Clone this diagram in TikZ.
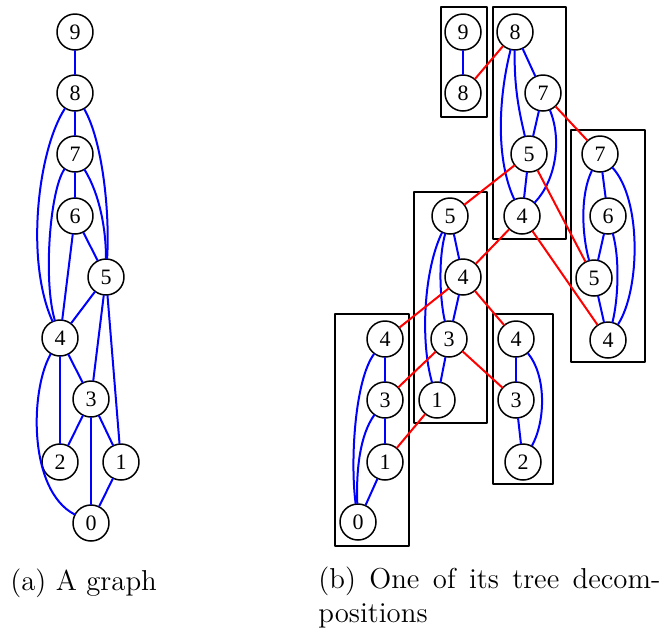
\documentclass[tikz,border=0pt]{standalone}
\usepackage{fontspec}
\newfontfamily\vtxfont{Liberation Serif}
\begin{document}
\begin{tikzpicture}[x=0.5pt, y=-0.5pt, line cap=round, line join=round,
  vtx/.style={circle, draw, line width=0.75pt, minimum size=18pt, inner sep=0pt,
    font=\vtxfont\fontsize{11}{12}\selectfont},
  gedge/.style={draw=\tdGraphEdgeColor, line width=1pt},
  tedge/.style={draw=\tdTreeEdgeColor, line width=1pt},
  bag/.style={draw, line width=0.75pt},
  capt/.style={inner sep=0pt, anchor=base west, font=\fontsize{14.4}{17}\selectfont}]
% Tree decomposition figure, pixel coordinates
\providecommand{\tdGraphEdgeColor}{blue}
\providecommand{\tdTreeEdgeColor}{red}
\useasboundingbox (0,0) rectangle (662,632);
% (a) The graph
\node[vtx] (g9) at (75,32) {9};
\node[vtx] (g8) at (75,93) {8};
\node[vtx] (g7) at (75,154) {7};
\node[vtx] (g6) at (75,216) {6};
\node[vtx] (g5) at (106,277) {5};
\node[vtx] (g4) at (60,338) {4};
\node[vtx] (g3) at (91,399) {3};
\node[vtx] (g2) at (60,462) {2};
\node[vtx] (g1) at (121,462) {1};
\node[vtx] (g0) at (91,523) {0};
\begin{scope}[gedge]
  \draw (g9) -- (g8);
  \draw (g8) -- (g7);
  \draw (g8) .. controls (38,150) and (25,260) .. (g4);
  \draw (g8) .. controls (102,140) and (110,210) .. (g5);
  \draw (g7) -- (g6);
  \draw (g7) .. controls (50,190) and (43,280) .. (g4);
  \draw (g7) .. controls (100,195) and (106,230) .. (g5);
  \draw (g6) -- (g5);
  \draw (g6) -- (g4);
  \draw (g5) -- (g4);
  \draw (g5) -- (g3);
  \draw (g5) -- (g1);
  \draw (g4) -- (g3);
  \draw (g4) -- (g2);
  \draw (g4) .. controls (30,390) and (28,490) .. (g0);
  \draw (g3) -- (g2);
  \draw (g3) -- (g1);
  \draw (g3) -- (g0);
  \draw (g1) -- (g0);
\end{scope}
% (b) Bags
\draw[bag] (441,7) rectangle (487,117);
\draw[bag] (493,7) rectangle (566,239);
\draw[bag] (571,130) rectangle (645,362);
\draw[bag] (414,192) rectangle (487,423);
\draw[bag] (335,314) rectangle (409,546);
\draw[bag] (493,314) rectangle (553,484);
% bag {9,8}
\node[vtx] (a9) at (463,32) {9};
\node[vtx] (a8) at (463,93) {8};
% bag {8,7,5,4}
\node[vtx] (b8) at (515,32) {8};
\node[vtx] (b7) at (543,93) {7};
\node[vtx] (b5) at (529,154) {5};
\node[vtx] (b4) at (522,216) {4};
% bag {7,6,5,4}
\node[vtx] (c7) at (600,154) {7};
\node[vtx] (c6) at (608,216) {6};
\node[vtx] (c5) at (594,278) {5};
\node[vtx] (c4) at (608,340) {4};
% bag {5,4,3,1}
\node[vtx] (d5) at (450,216) {5};
\node[vtx] (d4) at (463,277) {4};
\node[vtx] (d3) at (449,339) {3};
\node[vtx] (d1) at (437,400) {1};
% bag {4,3,1,0}
\node[vtx] (e4) at (385,339) {4};
\node[vtx] (e3) at (385,400) {3};
\node[vtx] (e1) at (385,462) {1};
\node[vtx] (e0) at (358,522) {0};
% bag {4,3,2}
\node[vtx] (f4) at (516,339) {4};
\node[vtx] (f3) at (516,400) {3};
\node[vtx] (f2) at (523,462) {2};
% Edges inside the bags
\begin{scope}[gedge]
  \draw (a9) -- (a8);
  \draw (b8) -- (b7);
  \draw (b8) .. controls (514,90) and (520,115) .. (b5);
  \draw (b8) .. controls (498,100) and (496,160) .. (b4);
  \draw (b7) -- (b5);
  \draw (b7) .. controls (562,140) and (556,180) .. (b4);
  \draw (b5) -- (b4);
  \draw (c7) -- (c6);
  \draw (c7) .. controls (580,195) and (582,235) .. (c5);
  \draw (c7) .. controls (642,200) and (640,290) .. (c4);
  \draw (c6) -- (c5);
  \draw (c6) .. controls (620,260) and (618,300) .. (c4);
  \draw (c5) -- (c4);
  \draw (d5) -- (d4);
  \draw (d5) .. controls (438,260) and (440,300) .. (d3);
  \draw (d5) .. controls (424,270) and (420,340) .. (d1);
  \draw (d4) -- (d3);
  \draw (d3) -- (d1);
  \draw (e4) -- (e3);
  \draw (e4) .. controls (355,380) and (350,460) .. (e0);
  \draw (e3) -- (e1);
  \draw (e3) .. controls (360,435) and (356,470) .. (e0);
  \draw (e1) -- (e0);
  \draw (f4) -- (f3);
  \draw (f4) .. controls (546,375) and (546,420) .. (f2);
  \draw (f3) -- (f2);
\end{scope}
% Tree edges between the bags
\begin{scope}[tedge]
  \draw (a8) -- (b8);
  \draw (b7) -- (c7);
  \draw (b5) -- (d5);
  \draw (b5) -- (c5);
  \draw (b4) -- (d4);
  \draw (b4) -- (c4);
  \draw (d4) -- (e4);
  \draw (d4) -- (f4);
  \draw (d3) -- (e3);
  \draw (d3) -- (f3);
  \draw (d1) -- (e1);
\end{scope}
% Captions
\node[capt] (capa) at (10,590) {(a) A graph};
\node[capt, text width=171pt, align=justify] (capb) at (318,588)
  {(b) One of its tree decom-\linebreak positions};
\end{tikzpicture}
\end{document}
